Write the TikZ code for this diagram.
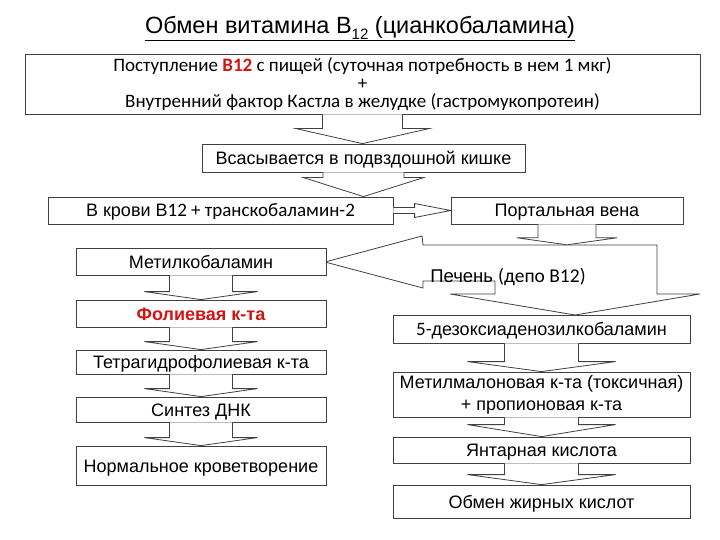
\documentclass[tikz,border=0pt]{standalone}
\usepackage{fontspec}
\setmainfont{Liberation Sans}
\newfontfamily\calib{Carlito}
\usetikzlibrary{calc}

\definecolor{linegray}{RGB}{64,64,64}
\definecolor{textred}{RGB}{210,20,20}

\tikzset{
  box/.style={draw=linegray, line width=0.8pt, fill=white, inner sep=0pt,
    align=center, text height=13pt, text depth=0pt, font=\fontsize{18}{22}\selectfont},
  multibox/.style={box, text height={}, text depth={}},
  blockarrow/.style={draw=linegray, line width=0.8pt, fill=white},
}

% block arrow down: from, to, shaft half, head half, head length
\newcommand{\flowdown}[5]{%
  \draw[blockarrow] let \p1=(#1.south), \p2=(#2.north) in
    (\x1-#3,\y1) -- (\x1-#3,\y2+#5) -- (\x1-#4,\y2+#5) -- (\x1,\y2)
    -- (\x1+#4,\y2+#5) -- (\x1+#3,\y2+#5) -- (\x1+#3,\y1);}
% block arrow right: from, to, shaft half, head half, head length
\newcommand{\flowright}[5]{%
  \draw[blockarrow] let \p1=(#1.east), \p2=(#2.west) in
    (\x1,\y1+#3) -- (\x2-#5,\y1+#3) -- (\x2-#5,\y1+#4) -- (\x2,\y1)
    -- (\x2-#5,\y1-#4) -- (\x2-#5,\y1-#3) -- (\x1,\y1-#3);}

\begin{document}
\begin{tikzpicture}[x=1pt, y=-1pt]
\useasboundingbox[fill=white] (0,0) rectangle (720,540);

% title
\node[inner sep=0pt, font=\fontsize{23.5}{26}\selectfont] (title) at (360,28)
  {Обмен витамина B\raisebox{-6pt}{\fontsize{15}{15}\selectfont 12} (цианкобаламина)};
\draw[line width=0.8pt] ([yshift=-6.5pt]title.base west) -- ([yshift=-6.5pt]title.base east);

% upper chain
\node[multibox, minimum width=675, minimum height=60, font=\calib\fontsize{19}{18}\selectfont] (intake) at (362.5,84)
  {Поступление {\bfseries\color{textred}B12} с пищей (суточная потребность в нем 1 мкг)\\+\\Внутренний фактор Кастла в желудке (гастромукопротеин)};
\node[box, minimum width=323, minimum height=28] (absorb) at (363.5,158) {Всасывается в подвздошной кишке};
\node[box, minimum width=345, minimum height=27] (blood) at (220.5,210.5) {В крови B{\calib\fontsize{19}{22}\selectfont 12 + транскобаламин-2}};
\node[box, minimum width=232, minimum height=27] (portal) at (567,210.5) {Портальная вена};

\flowdown{intake}{absorb}{40}{66.5}{15}
\flowdown{absorb}{blood}{40.5}{60}{19}
\flowright{blood}{portal}{3}{7}{36}

% liver
\draw[blockarrow] (325,262) -- (422,236) -- (423,245) -- (657,245) -- (657,294)
  -- (700,294) -- (575,315) -- (450,294) -- (495,294) -- (495,281)
  -- (423,281) -- (423,288) -- cycle;
\node[inner sep=0pt, font=\fontsize{18.5}{22}\selectfont] (liver) at (508,277) {Печень {\calib\fontsize{19.5}{22}\selectfont (депо B12)}};
\node[inner sep=0pt, minimum size=0pt] (livertop) at (567,245) {};
\flowdown{portal}{livertop}{29}{50}{7}

% left column
\node[box, minimum width=250, minimum height=27] (methyl) at (201,261.5) {Метилкобаламин};
\node[box, minimum width=250, minimum height=27, text=textred, font=\bfseries\fontsize{18}{22}\selectfont] (folic) at (201,313.5) {Фолиевая к-та};
\node[box, minimum width=250, minimum height=24] (thf) at (201,362) {Тетрагидрофолиевая к-та};
\node[box, minimum width=250, minimum height=25] (dna) at (201,409.5) {Синтез ДНК};
\node[box, minimum width=250, minimum height=39] (blood2) at (201,465.5) {Нормальное кроветворение};

\flowdown{methyl}{folic}{31.5}{56.5}{8}
\flowdown{folic}{thf}{31.5}{56.5}{8}
\flowdown{thf}{dna}{31.5}{56.5}{8}
\flowdown{dna}{blood2}{31.5}{56.5}{8}

% right column
\node[box, minimum width=297, minimum height=28] (deoxy) at (541.5,329) {{\calib\fontsize{19}{22}\selectfont 5-}дезоксиаденозилкобаламин};
\node[multibox, minimum width=297, minimum height=45] (malon) at (541.5,394.5) {Метилмалоновая к-та (токсичная)\\+ пропионовая к-та};
\node[box, minimum width=297, minimum height=26] (succ) at (541.5,450) {Янтарная кислота};
\node[box, minimum width=297, minimum height=33] (fatty) at (541.5,501.5) {Обмен жирных кислот};

\flowdown{deoxy}{malon}{37}{74}{10}
\flowdown{malon}{succ}{37}{74}{12}
\flowdown{succ}{fatty}{37}{74}{10}
\end{tikzpicture}
\end{document}
